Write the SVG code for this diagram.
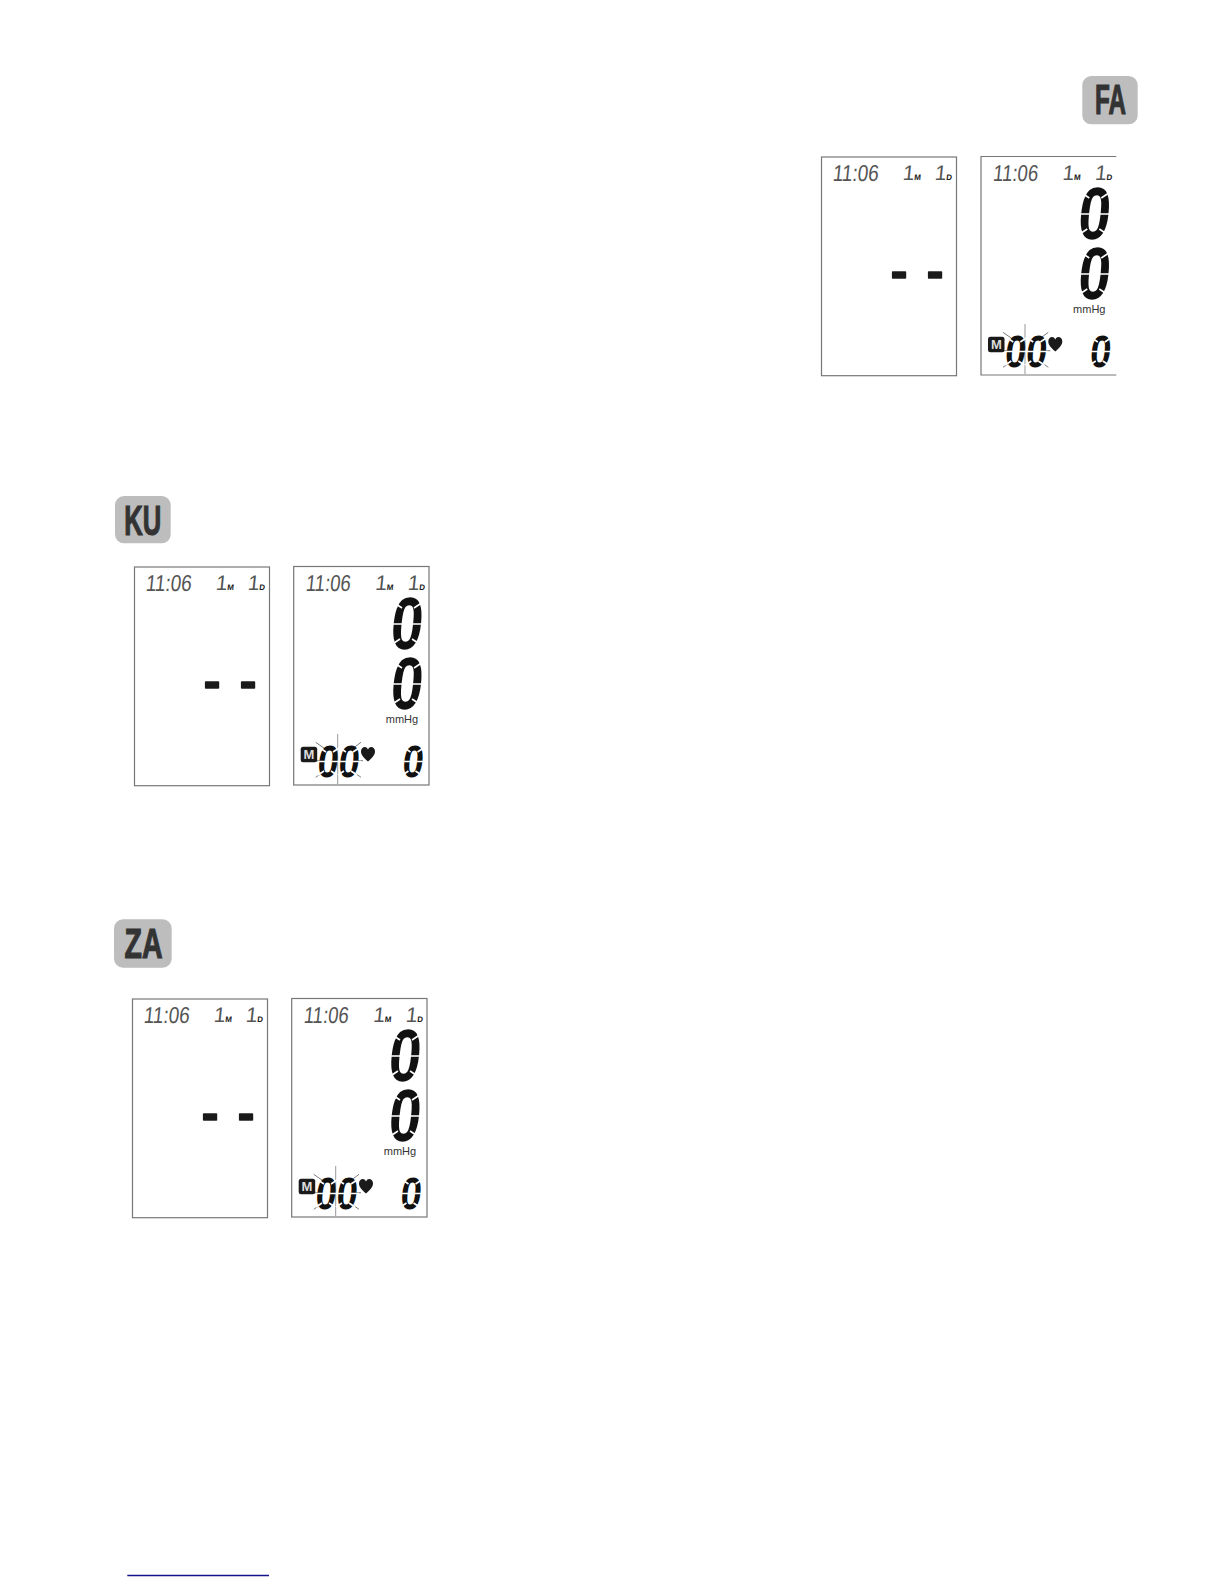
<svg xmlns="http://www.w3.org/2000/svg" width="1224" height="1584" viewBox="0 0 1224 1584">
<style>
text{font-family:"Liberation Sans",sans-serif}
.badge{fill:#bdbdbd}
.bt{font-size:42px;font-weight:700;fill:#333;stroke:#333;stroke-width:1.2;text-anchor:middle}
.panel{fill:#fff;stroke:#777;stroke-width:1.2}
.sk{transform-box:fill-box;transform-origin:center;transform:skewX(-6deg)}
.time{font-size:23px;fill:#555}
.one{font-size:21px;fill:#555}
.sub{font-size:8px;font-weight:700;fill:#222}
.dash{font-size:50px;font-weight:700;fill:#1a1a1a;stroke:#1a1a1a;stroke-width:1.6;stroke-linejoin:round;text-anchor:middle}
.big{font-size:74px;font-weight:700;fill:#111;text-anchor:middle}
.small{font-size:45px;font-weight:700;fill:#111;text-anchor:middle}
.mm{font-size:11px;fill:#333;text-anchor:middle}
.mt{font-size:13px;font-weight:700;fill:#ddd;text-anchor:middle}
.cut{stroke:#fff;stroke-width:1.6;fill:none}
.tick{stroke:#444;stroke-width:.7;fill:none}
.vl{stroke:#999;stroke-width:1;fill:none}
</style>
<defs>
<g id="cutBig"><path class="cut" d="M-3 26H31M-1 4L8 10M29 4L20 10M-3 47L6 41M27 47L18 41"/></g>
<g id="cutSmall"><path class="cut" d="M-3 15.500H20M-1 2L5 6M18 2L12 6M-3 29L3 25M16 29L10 25"/></g>
<g id="extras">
<path class="vl" d="M337.700 734V784"/>
<path class="tick" d="M315.700 742.300L324.300 748.300M315.700 777.300L324.300 771.700M361 742.300L353 748.300M361 777.300L353 771.700M317 760.700H323M357 760.700H363"/>
<rect x="300.700" y="746.700" width="16.500" height="15.500" rx="2.500" fill="#1a1a1a"/>
<path d="M368 761.500C363 757 361 754.500 361 751.500C361 746.500 366.500 745.500 368 749.500C369.500 745.500 375 746.500 375 751.500C375 754.500 373 757 368 761.500Z" fill="#1a1a1a"/>
</g>
</defs>

<g id="badge-fa"><rect class="badge" x="1082.300" y="76" width="55.400" height="48.300" rx="9"/><text class="bt" x="1110.500" y="113.500" textLength="31" lengthAdjust="spacingAndGlyphs">FA</text></g>
<g id="badge-ku"><rect class="badge" x="115" y="496" width="55.700" height="47.300" rx="9"/><text class="bt" x="142.800" y="535" textLength="37" lengthAdjust="spacingAndGlyphs">KU</text></g>
<g id="badge-za"><rect class="badge" x="114" y="919.300" width="57.700" height="48.400" rx="9"/><text class="bt" x="143.500" y="957.500" textLength="38" lengthAdjust="spacingAndGlyphs">ZA</text></g>

<g id="ku-left">
<rect class="panel" x="134.500" y="567" width="135" height="218.700"/>
<text class="time sk" x="146" y="591" textLength="46" lengthAdjust="spacingAndGlyphs">11:06</text>
<text class="one sk" x="216" y="590">1<tspan class="sub">M</tspan></text>
<text class="one sk" x="248" y="590">1<tspan class="sub">D</tspan></text>
<text class="dash" x="212" y="698">-</text><text class="dash" x="248" y="698">-</text>
</g>
<g id="ku-right">
<rect class="panel" x="293.700" y="566.500" width="135.300" height="218.500"/>
<text class="time sk" x="306" y="591" textLength="45" lengthAdjust="spacingAndGlyphs">11:06</text>
<text class="one sk" x="375.500" y="590">1<tspan class="sub">M</tspan></text>
<text class="one sk" x="408" y="590">1<tspan class="sub">D</tspan></text>
<text class="big sk" x="407.500" y="649" textLength="32" lengthAdjust="spacingAndGlyphs">0</text><use href="#cutBig" x="394" y="598"/>
<text class="big sk" x="407.500" y="709" textLength="32" lengthAdjust="spacingAndGlyphs">0</text><use href="#cutBig" x="394" y="658"/>
<text class="mm" x="402" y="723">mmHg</text>
<use href="#extras"/><text class="mt" x="309" y="759">M</text>
<text class="small sk" x="328.500" y="777" textLength="21" lengthAdjust="spacingAndGlyphs">0</text><use href="#cutSmall" x="321" y="746"/>
<text class="small sk" x="349.500" y="777" textLength="21" lengthAdjust="spacingAndGlyphs">0</text><use href="#cutSmall" x="341" y="746"/>
<text class="small sk" x="413.500" y="777" textLength="21" lengthAdjust="spacingAndGlyphs">0</text><use href="#cutSmall" x="405.500" y="746"/>
</g>

<g id="fa-left" transform="translate(687 -410)">
<rect class="panel" x="134.500" y="567" width="135" height="218.700"/>
<text class="time sk" x="146" y="591" textLength="46" lengthAdjust="spacingAndGlyphs">11:06</text>
<text class="one sk" x="216" y="590">1<tspan class="sub">M</tspan></text>
<text class="one sk" x="248" y="590">1<tspan class="sub">D</tspan></text>
<text class="dash" x="212" y="698">-</text><text class="dash" x="248" y="698">-</text>
</g>
<g id="fa-right" transform="translate(687.300 -410)">
<path class="panel" d="M429 566.500H293.700V785H429"/>
<text class="time sk" x="306" y="591" textLength="45" lengthAdjust="spacingAndGlyphs">11:06</text>
<text class="one sk" x="375.500" y="590">1<tspan class="sub">M</tspan></text>
<text class="one sk" x="408" y="590">1<tspan class="sub">D</tspan></text>
<text class="big sk" x="407.500" y="649" textLength="32" lengthAdjust="spacingAndGlyphs">0</text><use href="#cutBig" x="394" y="598"/>
<text class="big sk" x="407.500" y="709" textLength="32" lengthAdjust="spacingAndGlyphs">0</text><use href="#cutBig" x="394" y="658"/>
<text class="mm" x="402" y="723">mmHg</text>
<use href="#extras"/><text class="mt" x="309" y="759">M</text>
<text class="small sk" x="328.500" y="777" textLength="21" lengthAdjust="spacingAndGlyphs">0</text><use href="#cutSmall" x="321" y="746"/>
<text class="small sk" x="349.500" y="777" textLength="21" lengthAdjust="spacingAndGlyphs">0</text><use href="#cutSmall" x="341" y="746"/>
<text class="small sk" x="413.500" y="777" textLength="21" lengthAdjust="spacingAndGlyphs">0</text><use href="#cutSmall" x="405.500" y="746"/>
</g>

<g id="za-left" transform="translate(-2 432)">
<rect class="panel" x="134.500" y="567" width="135" height="218.700"/>
<text class="time sk" x="146" y="591" textLength="46" lengthAdjust="spacingAndGlyphs">11:06</text>
<text class="one sk" x="216" y="590">1<tspan class="sub">M</tspan></text>
<text class="one sk" x="248" y="590">1<tspan class="sub">D</tspan></text>
<text class="dash" x="212" y="698">-</text><text class="dash" x="248" y="698">-</text>
</g>
<g id="za-right" transform="translate(-2 432)">
<rect class="panel" x="293.700" y="566.500" width="135.300" height="218.500"/>
<text class="time sk" x="306" y="591" textLength="45" lengthAdjust="spacingAndGlyphs">11:06</text>
<text class="one sk" x="375.500" y="590">1<tspan class="sub">M</tspan></text>
<text class="one sk" x="408" y="590">1<tspan class="sub">D</tspan></text>
<text class="big sk" x="407.500" y="649" textLength="32" lengthAdjust="spacingAndGlyphs">0</text><use href="#cutBig" x="394" y="598"/>
<text class="big sk" x="407.500" y="709" textLength="32" lengthAdjust="spacingAndGlyphs">0</text><use href="#cutBig" x="394" y="658"/>
<text class="mm" x="402" y="723">mmHg</text>
<use href="#extras"/><text class="mt" x="309" y="759">M</text>
<text class="small sk" x="328.500" y="777" textLength="21" lengthAdjust="spacingAndGlyphs">0</text><use href="#cutSmall" x="321" y="746"/>
<text class="small sk" x="349.500" y="777" textLength="21" lengthAdjust="spacingAndGlyphs">0</text><use href="#cutSmall" x="341" y="746"/>
<text class="small sk" x="413.500" y="777" textLength="21" lengthAdjust="spacingAndGlyphs">0</text><use href="#cutSmall" x="405.500" y="746"/>
</g>

<path id="rule" d="M127.300 1575.500H269" stroke="#14148c" stroke-width="1.500" fill="none"/>
</svg>
